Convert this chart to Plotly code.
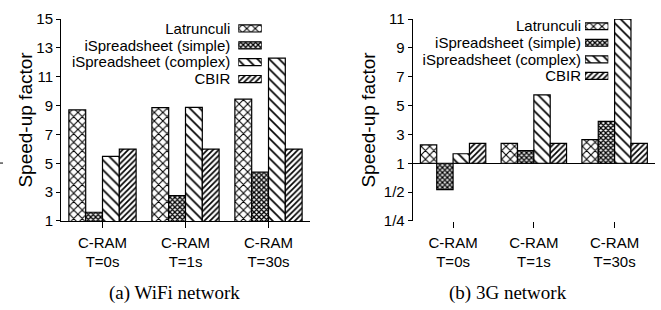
import math
import plotly.graph_objects as go

# ---------------- data ----------------
categories = ["T=0s", "T=1s", "T=30s"]
cat_prefix = "C-RAM"
series = ["Latrunculi", "iSpreadsheet (simple)", "iSpreadsheet (complex)", "CBIR"]

wifi_latrunculi = [8.7, 8.86, 9.45]
wifi_simple = [1.6, 2.76, 4.38]
wifi_complex = [5.47, 8.88, 12.3]
wifi_cbir = [5.98, 5.98, 5.98]

g3_latrunculi = [2.27, 2.38, 2.64]
g3_simple = [0.53, 1.87, 3.9]
g3_complex = [1.66, 5.74, 11.0]
g3_cbir = [2.38, 2.38, 2.38]

wifi_ticks = [1, 3, 5, 7, 9, 11, 13, 15]
g3_ticks = [0.25, 0.5, 1, 3, 5, 7, 9, 11]
g3_ticktext = ["1/4", "1/2", "1", "3", "5", "7", "9", "11"]

captions = ["(a) WiFi network", "(b) 3G network"]
ytitle = "Speed-up factor"

# ---------------- style ----------------
W, H = 661, 310
SANS = "Liberation Sans, Arial, Helvetica, sans-serif"
SERIF = "Liberation Serif, Times New Roman, serif"
patterns = [
    dict(shape="x", size=6, solidity=0.32),
    dict(shape="x", size=3.5, solidity=0.62),
    dict(shape="\\", size=7, solidity=0.24),
    dict(shape="/", size=4, solidity=0.42),
]


def px_x(p):
    return p / W


def px_y(p):
    return (H - p) / H


def g3_axis(v):
    # above 1: linear (2 units per tick); below 1: log2
    return (v - 1) / 2 if v >= 1 else math.log2(v)


wifi_sets = [wifi_latrunculi, wifi_simple, wifi_complex, wifi_cbir]
g3_sets = [g3_latrunculi, g3_simple, g3_complex, g3_cbir]

cat_text = [f"{cat_prefix}<br>{c}" for c in categories]


def pat(p):
    return dict(fgcolor="black", bgcolor="white", fgopacity=1, **p)


fig = go.Figure()

for name, vals, p in zip(series, wifi_sets, patterns):
    fig.add_trace(go.Bar(
        x=categories, y=vals, name=name, xaxis="x", yaxis="y",
        marker=dict(color="white", line=dict(color="black", width=1.2), pattern=pat(p)),
        showlegend=False,
    ))
for name, vals, p in zip(series, g3_sets, patterns):
    fig.add_trace(go.Bar(
        x=categories, y=[g3_axis(v) for v in vals], name=name, xaxis="x2", yaxis="y2",
        marker=dict(color="white", line=dict(color="black", width=1.2), pattern=pat(p)),
        showlegend=False,
    ))

# legend swatches (one horizontal bar per series) on their own small axes
for xa, ya in (("x3", "y3"), ("x4", "y4")):
    fig.add_trace(go.Bar(
        orientation="h", y=series, x=[1] * len(series), xaxis=xa, yaxis=ya,
        width=0.42,
        marker=dict(color="white", line=dict(color="black", width=1.2),
                    pattern=dict(fgcolor="black", bgcolor="white", fgopacity=1,
                                 shape=[p["shape"] for p in patterns],
                                 size=[p["size"] for p in patterns],
                                 solidity=[p["solidity"] for p in patterns])),
        showlegend=False, hoverinfo="skip",
    ))

ydom = [px_y(224.2), px_y(10.7)]
tickfont = dict(family=SANS, size=15, color="black")

common_x = dict(type="category", range=[-0.5, 2.5], tickmode="array",
                tickvals=categories, ticktext=cat_text, tickfont=tickfont,
                ticks="outside", ticklen=6, tickcolor="black", showgrid=False,
                ticklabelstandoff=2,
                zeroline=False, fixedrange=True)
common_y = dict(showgrid=False, ticks="outside", ticklen=4, tickcolor="black",
                showline=True, linecolor="black", linewidth=1, tickfont=tickfont,
                fixedrange=True)
leg_y = dict(type="category", autorange="reversed", showline=False, showgrid=False,
             ticks="", zeroline=False, tickfont=tickfont, tickmode="array",
             tickvals=series, ticktext=series, fixedrange=True)

fig.update_layout(
    width=W, height=H, margin=dict(l=0, r=0, t=0, b=0),
    paper_bgcolor="white", plot_bgcolor="white",
    barmode="group", bargap=0.19, bargroupgap=0,
    showlegend=False,
    xaxis=dict(domain=[px_x(61), px_x(310)], anchor="y", showline=True,
               linecolor="black", linewidth=1, **common_x),
    yaxis=dict(domain=ydom, anchor="x", range=[1, 15], tickvals=wifi_ticks,
               zeroline=False, **common_y),
    xaxis2=dict(domain=[px_x(412.7), px_x(655)], anchor="y2", showline=False,
                **common_x),
    yaxis2=dict(domain=ydom, anchor="x2", range=[g3_axis(0.25), g3_axis(11)],
                tickvals=[g3_axis(v) for v in g3_ticks], ticktext=g3_ticktext,
                zeroline=True, zerolinecolor="black", zerolinewidth=1, **common_y),
    xaxis3=dict(domain=[px_x(238.3), px_x(261.7)], anchor="y3", range=[0, 1],
                visible=False, fixedrange=True),
    yaxis3=dict(domain=[px_y(83), px_y(11.7)], anchor="x3", ticklabelstandoff=7, **leg_y),
    xaxis4=dict(domain=[px_x(585), px_x(608.3)], anchor="y4", range=[0, 1],
                visible=False, fixedrange=True),
    yaxis4=dict(domain=[px_y(79.5), px_y(9.5)], anchor="x4", ticklabelstandoff=3, **leg_y),
)

annotations = []
# y titles
for xc in (26, 369):
    annotations.append(dict(x=px_x(xc), xref="paper", y=px_y(117), yref="paper",
                            text=ytitle, textangle=-90, showarrow=False,
                            font=dict(family=SANS, size=19, color="black"),
                            xanchor="center", yanchor="middle"))
# captions
for cap, xc in zip(captions, (174, 508)):
    annotations.append(dict(x=px_x(xc), xref="paper", y=px_y(301), yref="paper",
                            text=cap, showarrow=False,
                            font=dict(family=SERIF, size=19, color="black"),
                            xanchor="center", yanchor="middle"))
fig.update_layout(annotations=annotations)

# small stray tick at the far left edge of the original image
fig.add_shape(type="line", xref="paper", yref="paper",
              x0=0, x1=px_x(3), y0=px_y(163), y1=px_y(163),
              line=dict(color="black", width=1))

fig.write_html("out.html", config={"displayModeBar": False},
               post_script="document.body.style.margin='0';")
